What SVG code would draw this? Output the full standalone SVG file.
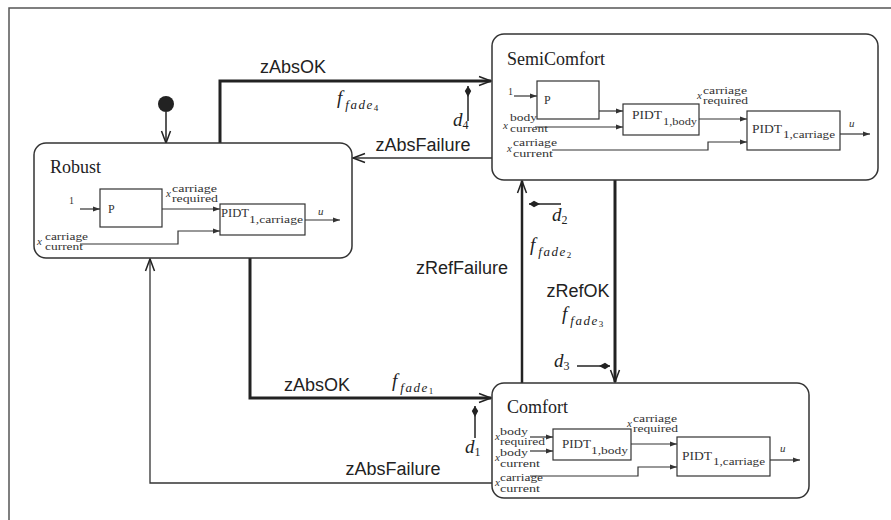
<svg xmlns="http://www.w3.org/2000/svg" width="891" height="520" viewBox="0 0 891 520">
<style>
.frame{fill:none;stroke:#555;stroke-width:1.5}
.node{fill:#fff;stroke:#333;stroke-width:1.5}
.blk{fill:#fff;stroke:#333;stroke-width:1.2}
.sig{fill:none;stroke:#333;stroke-width:1.2}
.thin{fill:none;stroke:#333;stroke-width:1.3}
.thick{fill:none;stroke:#222;stroke-width:3}
.med{fill:none;stroke:#222;stroke-width:2.5}
.dar{fill:none;stroke:#222;stroke-width:1.5}
.lbl{font-family:"Liberation Sans",Arial,sans-serif;font-size:18px;fill:#222;text-anchor:middle}
.st{font-family:"Liberation Serif","Times New Roman",serif;font-size:18px;fill:#222}
.sm{font-family:"Liberation Serif","Times New Roman",serif;font-size:10px;fill:#333}
.bx{font-family:"Liberation Serif","Times New Roman",serif;font-size:12px;fill:#333}
.mx{font-family:"Liberation Serif","Times New Roman",serif;font-size:11px;font-style:italic;fill:#333}
.m{font-family:"Liberation Serif","Times New Roman",serif;font-style:italic;fill:#222}
</style>
<defs>
<marker id="va" orient="auto" markerUnits="userSpaceOnUse" overflow="visible" markerWidth="1" markerHeight="1" refX="0" refY="0">
<path d="M-12,-4.5 L0,0 L-12,4.5" fill="none" stroke="#222" stroke-width="1.5"/>
</marker>
<marker id="sa" orient="auto" markerUnits="userSpaceOnUse" overflow="visible" markerWidth="1" markerHeight="1" refX="0" refY="0">
<path d="M0,0 L-7,-2.5 L-7,2.5 Z" fill="#333"/>
</marker>
<marker id="da" orient="auto" markerUnits="userSpaceOnUse" overflow="visible" markerWidth="1" markerHeight="1" refX="0" refY="0">
<path d="M0,0 L-5,-3.2 L-11,0 L-5,3.2 Z" fill="#222"/>
</marker>
</defs>
<rect width="891" height="520" fill="#fff"/>
<path class="frame" d="M9,520 V8 H891"/>

<g id="connectors">
<path class="dar" d="M166,112 V143" marker-end="url(#va)"/>
<path class="thick" d="M220,143 V81 H491" marker-end="url(#va)"/>
<path class="thin" d="M492,158 H353" marker-end="url(#va)"/>
<path class="thick" d="M250,258 V398 H491" marker-end="url(#va)"/>
<path class="thin" d="M492,483 H150 V259" marker-end="url(#va)"/>
<path class="med" d="M522,383 V181" marker-end="url(#va)"/>
<path class="thick" d="M615,180 V382" marker-end="url(#va)"/>
<path class="dar" d="M468,121 V86" marker-end="url(#da)"/>
<path class="dar" d="M475,438 V406" marker-end="url(#da)"/>
<path class="dar" d="M561,204 H529" marker-end="url(#da)"/>
<path class="dar" d="M577,366 H610" marker-end="url(#da)"/>
<text class="lbl" x="293" y="73">zAbsOK</text>
<text class="lbl" x="423" y="151">zAbsFailure</text>
<text class="lbl" x="317" y="391">zAbsOK</text>
<text class="lbl" x="393" y="475">zAbsFailure</text>
<text class="lbl" x="462" y="274">zRefFailure</text>
<text class="lbl" x="578" y="297">zRefOK</text>
<text class="m" x="337" y="104"><tspan font-size="19">f</tspan><tspan font-size="13" dx="3" dy="5" letter-spacing="1.5">fade</tspan><tspan font-size="9" dy="2" font-style="normal">4</tspan></text>
<text class="m" x="392" y="387"><tspan font-size="19">f</tspan><tspan font-size="13" dx="3" dy="5" letter-spacing="1.5">fade</tspan><tspan font-size="9" dy="2" font-style="normal">1</tspan></text>
<text class="m" x="530" y="251"><tspan font-size="19">f</tspan><tspan font-size="13" dx="3" dy="5" letter-spacing="1.5">fade</tspan><tspan font-size="9" dy="2" font-style="normal">2</tspan></text>
<text class="m" x="562" y="320"><tspan font-size="19">f</tspan><tspan font-size="13" dx="3" dy="5" letter-spacing="1.5">fade</tspan><tspan font-size="9" dy="2" font-style="normal">3</tspan></text>
<text class="m" x="453" y="126"><tspan font-size="19">d</tspan><tspan font-size="12" dy="3" font-style="normal">4</tspan></text>
<text class="m" x="465" y="453"><tspan font-size="19">d</tspan><tspan font-size="12" dy="3" font-style="normal">1</tspan></text>
<text class="m" x="552" y="221"><tspan font-size="19">d</tspan><tspan font-size="12" dy="3" font-style="normal">2</tspan></text>
<text class="m" x="554" y="367"><tspan font-size="19">d</tspan><tspan font-size="12" dy="3" font-style="normal">3</tspan></text>
</g>

<g id="initial">
<circle cx="166" cy="104" r="8" fill="#222"/>
</g>

<g id="robust">
<rect class="node" x="34" y="143" width="318" height="115" rx="12"/>
<text class="st" x="50" y="173">Robust</text>
<rect class="blk" x="100" y="189" width="62" height="38"/>
<text class="bx" x="108" y="213">P</text>
<text class="sm" x="69" y="204">1</text>
<path class="sig" d="M80,209 H100" marker-end="url(#sa)"/>
<rect class="blk" x="220" y="204" width="85" height="31"/>
<text class="bx" x="221" y="217" textLength="28" lengthAdjust="spacingAndGlyphs">PIDT</text>
<text class="sm" x="249" y="223" textLength="54" lengthAdjust="spacingAndGlyphs">1,carriage</text>
<path class="sig" d="M162,209 H220" marker-end="url(#sa)"/>
<text class="mx" x="166" y="197">x</text>
<text class="sm" x="172" y="192" textLength="45" lengthAdjust="spacingAndGlyphs">carriage</text>
<text class="sm" x="172" y="202" textLength="46" lengthAdjust="spacingAndGlyphs">required</text>
<path class="sig" d="M305,220 H340" marker-end="url(#sa)"/>
<text class="mx" x="318" y="215">u</text>
<text class="mx" x="37" y="245">x</text>
<text class="sm" x="45" y="240" textLength="43" lengthAdjust="spacingAndGlyphs">carriage</text>
<text class="sm" x="45" y="250" textLength="38" lengthAdjust="spacingAndGlyphs">current</text>
<path class="sig" d="M80,244 H178 V231 H220" marker-end="url(#sa)"/>
</g>

<g id="semicomfort">
<rect class="node" x="492" y="34" width="386" height="146" rx="12"/>
<text class="st" x="507" y="65">SemiComfort</text>
<rect class="blk" x="537" y="81" width="62" height="38"/>
<text class="bx" x="544" y="104">P</text>
<text class="sm" x="508" y="95">1</text>
<path class="sig" d="M514,96 H537" marker-end="url(#sa)"/>
<rect class="blk" x="623" y="104" width="76" height="31"/>
<text class="bx" x="632" y="119" textLength="30" lengthAdjust="spacingAndGlyphs">PIDT</text>
<text class="sm" x="663" y="125" textLength="34" lengthAdjust="spacingAndGlyphs">1,body</text>
<path class="sig" d="M599,111 H623" marker-end="url(#sa)"/>
<text class="mx" x="503" y="129">x</text>
<text class="sm" x="510" y="121" textLength="27" lengthAdjust="spacingAndGlyphs">body</text>
<text class="sm" x="510" y="132" textLength="38" lengthAdjust="spacingAndGlyphs">current</text>
<path class="sig" d="M535,127 H623" marker-end="url(#sa)"/>
<rect class="blk" x="747" y="111" width="93" height="39"/>
<text class="bx" x="752" y="133" textLength="30" lengthAdjust="spacingAndGlyphs">PIDT</text>
<text class="sm" x="783" y="138" textLength="52" lengthAdjust="spacingAndGlyphs">1,carriage</text>
<path class="sig" d="M699,119 H747" marker-end="url(#sa)"/>
<text class="mx" x="697" y="99">x</text>
<text class="sm" x="703" y="94" textLength="44" lengthAdjust="spacingAndGlyphs">carriage</text>
<text class="sm" x="703" y="104" textLength="45" lengthAdjust="spacingAndGlyphs">required</text>
<path class="sig" d="M840,134 H870" marker-end="url(#sa)"/>
<text class="mx" x="849" y="127">u</text>
<text class="mx" x="507" y="152">x</text>
<text class="sm" x="513" y="146" textLength="44" lengthAdjust="spacingAndGlyphs">carriage</text>
<text class="sm" x="513" y="157" textLength="40" lengthAdjust="spacingAndGlyphs">current</text>
<path class="sig" d="M552,150 H708 V142 H747" marker-end="url(#sa)"/>
</g>

<g id="comfort">
<rect class="node" x="492" y="383" width="317" height="115" rx="12"/>
<text class="st" x="507" y="413">Comfort</text>
<rect class="blk" x="553" y="429" width="78" height="31"/>
<text class="bx" x="562" y="448" textLength="29" lengthAdjust="spacingAndGlyphs">PIDT</text>
<text class="sm" x="591" y="454" textLength="37" lengthAdjust="spacingAndGlyphs">1,body</text>
<text class="mx" x="495" y="440">x</text>
<text class="sm" x="500" y="435" textLength="28" lengthAdjust="spacingAndGlyphs">body</text>
<text class="sm" x="500" y="445" textLength="45" lengthAdjust="spacingAndGlyphs">required</text>
<path class="sig" d="M530,437 H553" marker-end="url(#sa)"/>
<text class="mx" x="495" y="461">x</text>
<text class="sm" x="500" y="456" textLength="28" lengthAdjust="spacingAndGlyphs">body</text>
<text class="sm" x="500" y="467" textLength="40" lengthAdjust="spacingAndGlyphs">current</text>
<path class="sig" d="M530,451 H553" marker-end="url(#sa)"/>
<rect class="blk" x="677" y="437" width="93" height="39"/>
<text class="bx" x="682" y="460" textLength="30" lengthAdjust="spacingAndGlyphs">PIDT</text>
<text class="sm" x="713" y="465" textLength="52" lengthAdjust="spacingAndGlyphs">1,carriage</text>
<path class="sig" d="M631,444 H677" marker-end="url(#sa)"/>
<text class="mx" x="627" y="427">x</text>
<text class="sm" x="633" y="422" textLength="44" lengthAdjust="spacingAndGlyphs">carriage</text>
<text class="sm" x="633" y="432" textLength="45" lengthAdjust="spacingAndGlyphs">required</text>
<path class="sig" d="M770,460 H800" marker-end="url(#sa)"/>
<text class="mx" x="780" y="452">u</text>
<text class="mx" x="495" y="486">x</text>
<text class="sm" x="500" y="481" textLength="43" lengthAdjust="spacingAndGlyphs">carriage</text>
<text class="sm" x="500" y="492" textLength="40" lengthAdjust="spacingAndGlyphs">current</text>
<path class="sig" d="M530,476 H638 V467 H677" marker-end="url(#sa)"/>
</g>
</svg>
